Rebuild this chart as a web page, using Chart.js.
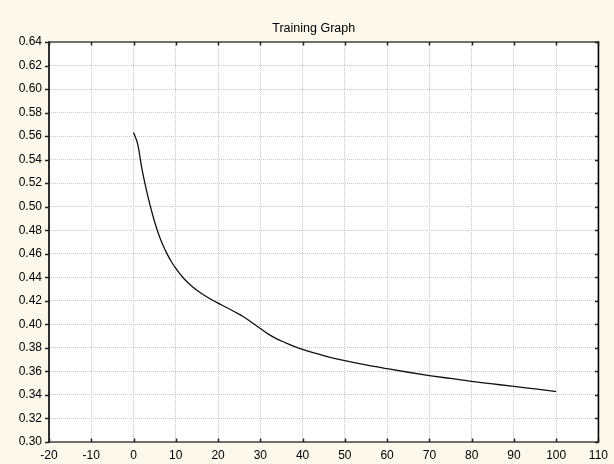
<!DOCTYPE html>
<html>
<head>
<meta charset="utf-8">
<script src="https://cdn.jsdelivr.net/npm/chart.js@4/dist/chart.umd.min.js"></script>
<style>
  html, body { margin: 0; padding: 0; background: #fdf8ec; }
  canvas { display: block; }
</style>
</head>
<body>
<canvas id="myChart" width="614" height="464"></canvas>
<script>
// epoch numbers and training error
const epochs = [0, 1, 2, 3, 4, 5, 6, 7, 8, 9, 10, 12, 14, 16, 18, 20, 22, 24, 26, 28, 30,
  32, 34, 36, 38, 40, 45, 50, 55, 60, 65, 70, 75, 80, 85, 90, 95, 100]
const trainError = [0.563, 0.553, 0.532, 0.515, 0.500, 0.487, 0.476, 0.467, 0.4595, 0.453, 0.4475,
  0.4385, 0.4318, 0.4265, 0.422, 0.418, 0.4143, 0.4105, 0.4065, 0.4015, 0.3965,
  0.3915, 0.3875, 0.3843, 0.3813, 0.3787, 0.3735, 0.3692, 0.3655, 0.3623, 0.3593,
  0.3565, 0.354, 0.3516, 0.3494, 0.3472, 0.3451, 0.343]

const xMin = -20, xMax = 110, xStep = 10
const yMin = 0.30, yMax = 0.64, yStep = 0.02
const chartTitle = "Training Graph"

const font = "'Liberation Sans', Arial, sans-serif"

let points = epochs.map((e, i) => ({x: e, y: trainError[i]}))

// paints the cream page and white plot area, then the frame, tick marks and title
const framePlugin = {
  id: 'frame',
  beforeDraw(chart) {
    const c = chart.ctx, a = chart.chartArea
    c.save()
    c.fillStyle = '#fdf8ec'
    c.fillRect(0, 0, chart.width, chart.height)
    c.fillStyle = '#ffffff'
    c.fillRect(a.left, a.top, a.right - a.left, a.bottom - a.top)
    c.restore()
  },
  afterDraw(chart) {
    const c = chart.ctx, a = chart.chartArea
    const xs = chart.scales.x, ys = chart.scales.y
    c.save()
    c.lineWidth = 1.6
    // top and bottom
    c.strokeStyle = '#444'
    c.beginPath()
    c.moveTo(a.left, a.top); c.lineTo(a.right, a.top)
    c.moveTo(a.left, a.bottom); c.lineTo(a.right, a.bottom)
    c.stroke()
    // left and right
    c.strokeStyle = '#000'
    c.beginPath()
    c.moveTo(a.left, a.top - 0.8); c.lineTo(a.left, a.bottom + 0.8)
    c.moveTo(a.right, a.top - 0.8); c.lineTo(a.right, a.bottom + 0.8)
    c.stroke()

    c.lineWidth = 1.5
    c.strokeStyle = '#222'
    c.beginPath()
    xs.ticks.forEach(t => {
      const px = Math.round(xs.getPixelForValue(t.value)) + 0.5
      c.moveTo(px, a.top); c.lineTo(px, a.top + 3.5)
      c.moveTo(px, a.bottom); c.lineTo(px, a.bottom - 3.5)
    })
    ys.ticks.forEach(t => {
      const py = Math.round(ys.getPixelForValue(t.value)) + 0.5
      c.moveTo(a.left, py); c.lineTo(a.left - 4, py)
      c.moveTo(a.right, py); c.lineTo(a.right - 3.5, py)
    })
    c.stroke()

    // title, sits a little left of the plot centre
    c.fillStyle = '#000'
    c.font = "12.5px " + font
    c.textAlign = 'center'
    c.textBaseline = 'alphabetic'
    c.fillText(chartTitle, (a.left + a.right) / 2 - 10, 31.5)
    c.restore()
  }
}

let myChart = new Chart("myChart", {
  type: "line",
  data: {
    datasets: [{
      data: points,
      borderColor: "#111",
      borderWidth: 1.3,
      pointRadius: 0,
      fill: false,
      cubicInterpolationMode: 'monotone'
    }]
  },
  options: {
    responsive: false,
    animation: false,
    events: [],
    layout: {padding: {left: 0, right: 14, top: 42, bottom: 0}},
    plugins: {
      legend: {display: false},
      tooltip: {enabled: false},
      title: {display: false}
    },
    scales: {
      x: {
        type: 'linear',
        min: xMin, max: xMax,
        afterFit(s) { s.height = 22 },
        grid: {color: '#c8c8c8', lineWidth: 1, drawTicks: false},
        border: {display: false, dash: [1, 1]},
        ticks: {
          stepSize: xStep,
          padding: 6,
          color: '#000',
          font: {family: font, size: 12},
          maxRotation: 0,
          autoSkip: false
        }
      },
      y: {
        min: yMin, max: yMax,
        afterFit(s) { s.width = 49 },
        grid: {color: '#c8c8c8', lineWidth: 1, drawTicks: false},
        border: {display: false, dash: [1, 1]},
        ticks: {
          stepSize: yStep,
          padding: 7,
          color: '#000',
          font: {family: font, size: 12},
          autoSkip: false,
          callback: v => v.toFixed(2)
        }
      }
    }
  },
  plugins: [framePlugin]
})
</script>
</body>
</html>
